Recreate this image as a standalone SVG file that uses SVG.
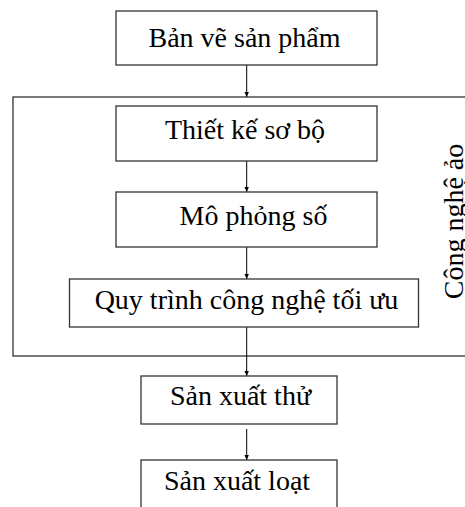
<svg xmlns="http://www.w3.org/2000/svg" width="465" height="507" viewBox="0 0 465 507">
<style>
.box{fill:#fff;stroke:#333;stroke-width:1.3}
.frame{fill:none;stroke:#333;stroke-width:1.3}
.t{font-family:"Liberation Serif","Times New Roman",serif;font-size:28px;fill:#000;text-anchor:middle}
.c{stroke:#000;stroke-width:1;fill:none;marker-end:url(#ah)}
</style>
<defs>
<marker id="ah" markerWidth="6" markerHeight="6" refX="5" refY="3" orient="auto" markerUnits="userSpaceOnUse">
<path d="M0,0.8 L5,3 L0,5.2 Z" fill="#000"/>
</marker>
</defs>
<rect fill="#fff" width="465" height="507"/>
<g id="virtual">
<rect class="frame" x="13" y="97" width="470" height="259"/>
<text class="t" transform="translate(463,221.5) rotate(-90)" font-size="26">Công nghệ ảo</text>
</g>
<g id="connectors">
<line class="c" x1="246.7" y1="65" x2="246.7" y2="97"/>
<line class="c" x1="246.7" y1="161" x2="246.7" y2="192"/>
<line class="c" x1="246.7" y1="247" x2="246.7" y2="279"/>
<line class="c" x1="246.7" y1="327" x2="246.7" y2="376"/>
<line class="c" x1="246.7" y1="429" x2="246.7" y2="460"/>
</g>
<g id="n1"><rect class="box" x="116" y="11" width="261" height="54"/><text class="t" x="244.5" y="46.5">Bản vẽ sản phẩm</text></g>
<g id="n2"><rect class="box" x="116" y="106" width="261" height="55"/><text class="t" x="245" y="138.5">Thiết kế sơ bộ</text></g>
<g id="n3"><rect class="box" x="116" y="192" width="261" height="55"/><text class="t" x="253.5" y="225">Mô phỏng số</text></g>
<g id="n4"><rect class="box" x="69.5" y="279" width="349" height="48"/><text class="t" x="246.5" y="308.5">Quy trình công nghệ tối ưu</text></g>
<g id="n5"><rect class="box" x="141" y="376" width="196" height="48"/><text class="t" x="240.5" y="405">Sản xuất thử</text></g>
<g id="n6"><rect class="box" x="141" y="460" width="196" height="60"/><text class="t" x="237" y="489.5">Sản xuất loạt</text></g>
</svg>
